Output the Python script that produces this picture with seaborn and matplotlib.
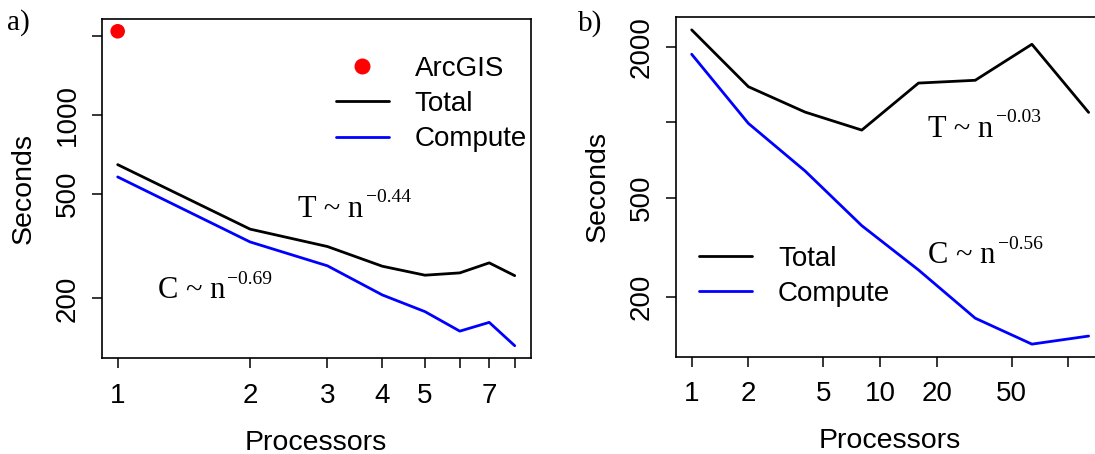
import numpy as np
import matplotlib
matplotlib.use("Agg")
import matplotlib.pyplot as plt
import seaborn as sns
from matplotlib.ticker import FixedLocator, FixedFormatter, NullLocator
from matplotlib.lines import Line2D

# ---------------- data ----------------
procs_a = [1, 2, 3, 4, 5, 6, 7, 8]
total_a = [646, 367, 315, 265, 245, 250, 273, 244]
compute_a = [580, 328, 266, 206, 178, 150, 162, 132]
arcgis_x = [1]
arcgis_y = [2080]

procs_b = [1, 2, 4, 8, 16, 32, 64, 128]
total_b = [2333, 1384, 1096, 929, 1431, 1468, 2044, 1093]
compute_b = [1865, 988, 638, 386, 257, 165, 130, 140]

xticks_a = [1, 2, 3, 4, 5, 6, 7, 8]
xticklabels_a = ["1", "2", "3", "4", "5", "", "7", ""]
yticks_a = [200, 500, 1000, 2000]
yticklabels_a = ["200", "500", "1000", ""]
xticks_b = [1, 2, 5, 10, 20, 50, 100]
xticklabels_b = ["1", "2", "5", "10", "20", "50", ""]
yticks_b = [200, 500, 1000, 2000]
yticklabels_b = ["200", "500", "", "2000"]

# ---------------- style ----------------
sns.set_style("ticks")
plt.rcParams["font.family"] = ["Liberation Sans", "DejaVu Sans"]
for k in ["text.color", "axes.labelcolor", "xtick.color", "ytick.color", "axes.edgecolor"]:
    plt.rcParams[k] = "black"

W, H = 1095.0, 454.0
fig = plt.figure(figsize=(W / 100, H / 100), dpi=100)
ax1 = fig.add_axes([101.8 / W, 1 - 358.3 / H, 428.8 / W, 339.6 / H])
ax2 = fig.add_axes([675.8 / W, 1 - 356.7 / H, 428.7 / W, 339.4 / H])


def rlim(vals):
    lo, hi = np.log(min(vals)), np.log(max(vals))
    d = 0.04 * (hi - lo)
    return np.exp(lo - d), np.exp(hi + d)


LW = 2.0
SERIF = ["Liberation Serif", "DejaVu Serif"]

# panel a
sns.lineplot(x=procs_a, y=total_a, color="black", lw=LW, ax=ax1)
sns.lineplot(x=procs_a, y=compute_a, color="blue", lw=LW, ax=ax1)
sns.scatterplot(x=arcgis_x, y=arcgis_y, color="red", s=110, edgecolor="none", ax=ax1, zorder=5)

# panel b
sns.lineplot(x=procs_b, y=total_b, color="black", lw=LW, ax=ax2)
sns.lineplot(x=procs_b, y=compute_b, color="blue", lw=LW, ax=ax2)

configs = [
    (ax1, procs_a, total_a + compute_a + arcgis_y, xticks_a, xticklabels_a, yticks_a, yticklabels_a),
    (ax2, procs_b, total_b + compute_b, xticks_b, xticklabels_b, yticks_b, yticklabels_b),
]
for ax, xs, ys, xt, xtl, yt, ytl in configs:
    ax.set_xscale("log")
    ax.set_yscale("log")
    ax.set_xlim(*rlim(xs))
    ax.set_ylim(*rlim(ys))
    ax.xaxis.set_major_locator(FixedLocator(xt))
    ax.xaxis.set_major_formatter(FixedFormatter(xtl))
    ax.yaxis.set_major_locator(FixedLocator(yt))
    ax.yaxis.set_major_formatter(FixedFormatter(ytl))
    ax.xaxis.set_minor_locator(NullLocator())
    ax.yaxis.set_minor_locator(NullLocator())
    ax.tick_params(axis="both", direction="out", length=7.2, width=1.1, labelsize=20)
    ax.tick_params(axis="x", pad=10.5)
    ax.tick_params(axis="y", pad=8)
    for lab in ax.get_yticklabels():
        lab.set_rotation(90)
        lab.set_va("center")
    for sp in ax.spines.values():
        sp.set_visible(True)
        sp.set_linewidth(1.2)
        sp.set_color("black")
    ax.set_xlabel("Processors", fontsize=20.5)
    ax.set_ylabel("Seconds", fontsize=20.5)
    ax.xaxis.set_label_coords(0.5, -0.21)
    ax.yaxis.set_label_coords(-0.151, 0.5)


def law(ax, x, y, base, exp_txt):
    t = ax.text(x, y, base, transform=ax.transAxes, fontsize=22, family=SERIF,
                ha="left", va="baseline")
    ax.annotate(exp_txt, xy=(1, 0), xycoords=t, xytext=(1.5, 15.5),
                textcoords="offset points", fontsize=14, family=SERIF,
                ha="left", va="baseline")


law(ax1, 0.4583, 0.417, "T ~ n", "\u22120.44")
law(ax1, 0.1306, 0.1767, "C ~ n", "\u22120.69")
law(ax2, 0.589, 0.648, "T ~ n", "\u22120.03")
law(ax2, 0.589, 0.275, "C ~ n", "\u22120.56")

# legends
h_arc = Line2D([], [], marker="o", color="red", ls="none", ms=10.5)
h_tot = Line2D([], [], color="black", lw=LW)
h_cmp = Line2D([], [], color="blue", lw=LW)
leg_kw = dict(loc="upper left", bbox_transform=fig.transFigure, frameon=False,
              borderpad=0, borderaxespad=0, handlelength=1.9, handletextpad=0.93,
              labelspacing=0.33, fontsize=20)
ax1.legend([h_arc, h_tot, h_cmp], ["ArcGIS", "Total", "Compute"],
           bbox_to_anchor=(336 / W, 1 - 56 / H), **leg_kw)
ax2.legend([h_tot, h_cmp], ["Total", "Compute"],
           bbox_to_anchor=(699.3 / W, 1 - 246 / H), **leg_kw)

fig.text(7 / W, 1 - 29.5 / H, "a)", fontsize=21, family=SERIF, ha="left", va="baseline")
fig.text(578 / W, 1 - 30.5 / H, "b)", fontsize=21, family=SERIF, ha="left", va="baseline")

fig.savefig("out.png", dpi=100)
